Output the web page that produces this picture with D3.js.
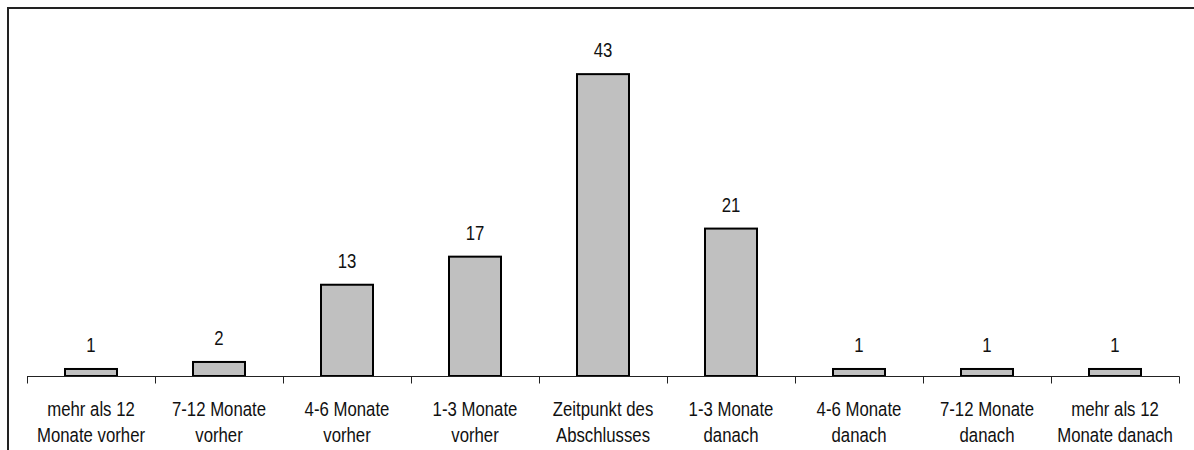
<!DOCTYPE html>
<html><head><meta charset="utf-8">
<script src="https://cdn.jsdelivr.net/npm/d3@7"></script>
<style>body{margin:0;background:#fff}svg{display:block}</style>
</head><body>
<script>
const categories = [
  ["mehr als 12","Monate vorher"],
  ["7-12 Monate","vorher"],
  ["4-6 Monate","vorher"],
  ["1-3 Monate","vorher"],
  ["Zeitpunkt des","Abschlusses"],
  ["1-3 Monate","danach"],
  ["4-6 Monate","danach"],
  ["7-12 Monate","danach"],
  ["mehr als 12","Monate danach"]
];
const values = [1,2,13,17,43,21,1,1,1];

const W=1194,H=450;
const svg=d3.select("body").append("svg").attr("width",W).attr("height",H);
const font="'Liberation Sans', Arial, sans-serif";
const fs=19.5, sx=0.86;

// frame
svg.append("path").attr("d",`M8,${H} L8,8 L${W},8`).attr("fill","none").attr("stroke","#222").attr("stroke-width",2);

const idx=d3.range(categories.length);
const x=d3.scaleBand().domain(idx).range([27,1179]).paddingInner(0).paddingOuter(0);
const y=d3.scaleLinear().domain([0,50]).range([376,25]);
const bw=52;

const g=svg.append("g");
g.selectAll("rect.bar").data(values).join("rect")
  .attr("x",(d,i)=>x(i)+x.bandwidth()/2-bw/2)
  .attr("y",d=>y(d))
  .attr("width",bw)
  .attr("height",d=>y(0)-y(d))
  .attr("fill","#c0c0c0").attr("stroke","#000").attr("stroke-width",2);

g.selectAll("text.val").data(values).join("text")
  .attr("transform",(d,i)=>`translate(${x(i)+x.bandwidth()/2},${y(d)-17}) scale(${sx},1)`)
  .attr("text-anchor","middle")
  .attr("font-family",font).attr("font-size",fs).attr("fill","#111")
  .text(d=>d);

// axis
const axisG=svg.append("g").attr("transform","translate(0,376.5)");
axisG.append("line").attr("x1",27).attr("x2",1179.5).attr("stroke","#222").attr("stroke-width",1);
const tickPos=idx.map(i=>x(i)).concat([x(idx[idx.length-1])+x.bandwidth()]);
axisG.selectAll("line.tick").data(tickPos).join("line")
  .attr("x1",d=>Math.round(d)+0.5).attr("x2",d=>Math.round(d)+0.5)
  .attr("y1",0).attr("y2",7).attr("stroke","#222").attr("stroke-width",1);

const lab=svg.append("g");
categories.forEach((c,i)=>{
  c.forEach((line,j)=>{
    lab.append("text").attr("text-anchor","middle")
      .attr("transform",`translate(${x(i)+x.bandwidth()/2},${416+j*26}) scale(${sx},1)`)
      .attr("font-family",font).attr("font-size",fs).attr("fill","#111")
      .text(line);
  });
});
</script>
</body></html>
